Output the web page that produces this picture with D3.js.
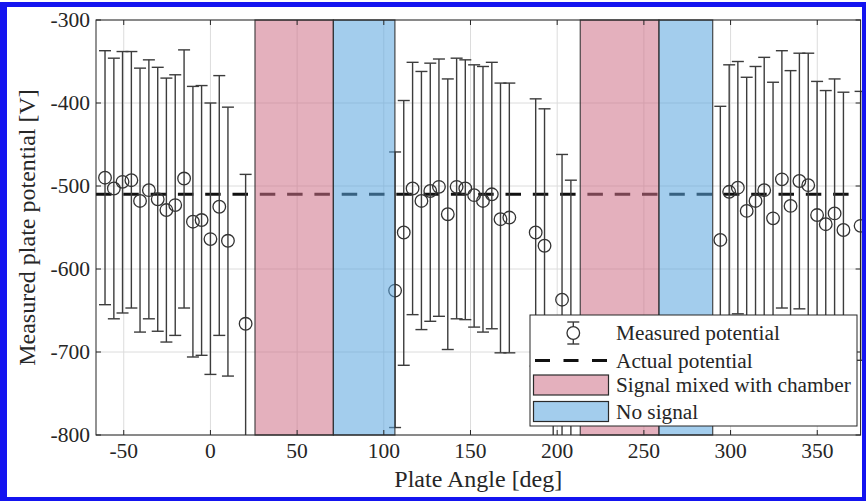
<!DOCTYPE html>
<html>
<head>
<meta charset="utf-8">
<script src="https://cdn.jsdelivr.net/npm/d3@7"></script>
<style>
  html, body { margin: 0; padding: 0; background: #fff; }
  svg { display: block; }
  svg text { font-family: "Liberation Serif", "DejaVu Serif", serif; }
</style>
</head>
<body>
<svg id="chart" width="866" height="502" font-family="Liberation Serif, DejaVu Serif, serif"></svg>
<script>
// Plate angle of each measurement [deg]
const angleDeg = [
  -60.8, -55.7, -50.7, -45.6, -40.6, -35.5, -30.4, -25.4, -20.3, -15.2, -10.1, -5.1, 0, 5.1, 10.1, 20.3,
  106.5, 111.5, 116.6, 121.7, 126.8, 131.8, 136.9, 142.0, 147.0, 152.1, 157.2, 162.3, 167.3, 172.4,
  187.6, 192.7, 197.7, 202.8, 207.9,
  294.1, 299.2, 304.2, 309.3, 314.4, 319.4, 324.5, 329.6, 334.6, 339.7, 344.8, 349.9, 354.9, 360.0, 365.1, 375.0
];
// Measured plate potential [V]
const measuredV = [
  -490, -503, -495, -493, -518, -505, -516, -529, -523, -491, -543, -541, -564, -525, -566, -666,
  -626, -556, -503, -518, -506, -501, -534, -501, -503, -511, -518, -510, -540, -538,
  -556, -572, -835, -637, -668,
  -565, -507, -502, -530, -518, -505, -539, -492, -524, -494, -499, -535, -546, -533, -553, -548
];
// Upper end of the error bar [V]
const upperV = [
  -337, -346, -338, -338, -358, -348, -357, -370, -366, -336, -380, -379, -400, -367, -405, -486,
  -459, -397, -351, -362, -352, -347, -371, -346, -348, -354, -356, -351, -376, -376,
  -395, -407, -670, -462, -493,
  -404, -354, -350, -369, -356, -345, -375, -337, -361, -340, -340, -374, -385, -371, -387, -386
];
// Lower end of the error bar [V]
const lowerV = [
  -643, -660, -653, -647, -676, -660, -675, -688, -680, -647, -706, -704, -727, -680, -729, -846,
  -791, -716, -655, -673, -663, -657, -697, -660, -661, -670, -676, -672, -701, -701,
  -717, -737, -1000, -812, -843,
  -726, -660, -654, -691, -680, -665, -703, -647, -687, -648, -658, -696, -707, -695, -719, -710
];

// Actual (set) plate potential [V]
const actualV = -510;

// Angle ranges [deg]
const mixedRanges = [[25.7, 70.9], [213.3, 258.7]];
const noSignalRanges = [[70.9, 106.4], [258.7, 289.7]];

// Axes
const xLimits = [-66, 375];
const yLimits = [-800, -300];
const xTicks = [-50, 0, 50, 100, 150, 200, 250, 300, 350];
const yTicks = [-800, -700, -600, -500, -400, -300];

const legendLabels = ["Measured potential", "Actual potential", "Signal mixed with chamber", "No signal"];

const W = 866, H = 502;
const plot = { left: 96, right: 860.6, top: 20, bottom: 435 };
const AX = "#262626";
const SERIF = "Liberation Serif, DejaVu Serif, serif";
const MIXED_FILL = "rgb(205,112,134)";
const NONE_FILL = "rgb(88,164,222)";
const FILL_OPACITY = 0.55;

const x = d3.scaleLinear().domain(xLimits).range([plot.left, plot.right]);
const y = d3.scaleLinear().domain(yLimits).range([plot.bottom, plot.top]);

const svg = d3.select("#chart");
svg.append("rect").attr("width", W).attr("height", H).attr("fill", "#fff");

const defs = svg.append("defs");
defs.append("clipPath").attr("id", "plotClip")
  .append("rect").attr("x", 0).attr("y", plot.top).attr("width", W).attr("height", plot.bottom - plot.top);

// Grid
const grid = svg.append("g").attr("stroke", "#dcdcdc").attr("stroke-width", 1);
grid.selectAll("line.gx").data(xTicks).join("line").attr("class", "gx")
  .attr("x1", d => x(d)).attr("x2", d => x(d)).attr("y1", plot.top).attr("y2", plot.bottom);
grid.selectAll("line.gy").data(yTicks).join("line").attr("class", "gy")
  .attr("x1", plot.left).attr("x2", plot.right).attr("y1", d => y(d)).attr("y2", d => y(d));

// Actual potential (dashed)
svg.append("line")
  .attr("x1", plot.left).attr("x2", plot.right)
  .attr("y1", y(actualV)).attr("y2", y(actualV))
  .attr("stroke", "#111").attr("stroke-width", 3)
  .attr("stroke-dasharray", "15.5 11.8");

// Error bars and markers
const pts = angleDeg.map((a, i) => ({ a, v: measuredV[i], hi: upperV[i], lo: lowerV[i] }));
const eb = svg.append("g").attr("clip-path", "url(#plotClip)");
const capHalf = 6;
const barColor = "#3c3c3c";
eb.selectAll("line.stem").data(pts).join("line").attr("class", "stem")
  .attr("x1", d => x(d.a)).attr("x2", d => x(d.a))
  .attr("y1", d => y(d.hi)).attr("y2", d => y(d.lo))
  .attr("stroke", barColor).attr("stroke-width", 1.4);
eb.selectAll("line.capHi").data(pts).join("line").attr("class", "capHi")
  .attr("x1", d => x(d.a) - capHalf).attr("x2", d => x(d.a) + capHalf)
  .attr("y1", d => y(d.hi)).attr("y2", d => y(d.hi))
  .attr("stroke", barColor).attr("stroke-width", 1.4);
eb.selectAll("line.capLo").data(pts).join("line").attr("class", "capLo")
  .attr("x1", d => x(d.a) - capHalf).attr("x2", d => x(d.a) + capHalf)
  .attr("y1", d => y(d.lo)).attr("y2", d => y(d.lo))
  .attr("stroke", barColor).attr("stroke-width", 1.4);
eb.selectAll("circle").data(pts).join("circle")
  .attr("cx", d => x(d.a)).attr("cy", d => y(d.v)).attr("r", 6.3)
  .attr("fill", "none").attr("stroke", "#333").attr("stroke-width", 1.3);

// Shaded angle ranges (translucent, over the data)
function drawRanges(ranges, fill) {
  const g = svg.append("g");
  g.selectAll("rect").data(ranges).join("rect")
    .attr("x", d => x(d[0])).attr("width", d => x(d[1]) - x(d[0]))
    .attr("y", plot.top).attr("height", plot.bottom - plot.top)
    .attr("fill", fill).attr("fill-opacity", FILL_OPACITY)
    .attr("stroke", "#2a2a2a").attr("stroke-width", 1.2).attr("stroke-opacity", 0.85);
}
drawRanges(mixedRanges, MIXED_FILL);
drawRanges(noSignalRanges, NONE_FILL);

// Axes box and inward ticks on all four sides
const axes = svg.append("g").attr("stroke", AX).attr("stroke-width", 1);
axes.append("rect").attr("x", plot.left).attr("y", plot.top)
  .attr("width", plot.right - plot.left).attr("height", plot.bottom - plot.top).attr("fill", "none");
const tl = 5;
xTicks.forEach(t => {
  axes.append("line").attr("x1", x(t)).attr("x2", x(t)).attr("y1", plot.bottom).attr("y2", plot.bottom - tl);
  axes.append("line").attr("x1", x(t)).attr("x2", x(t)).attr("y1", plot.top).attr("y2", plot.top + tl);
});
yTicks.forEach(t => {
  axes.append("line").attr("x1", plot.left).attr("x2", plot.left + tl).attr("y1", y(t)).attr("y2", y(t));
  axes.append("line").attr("x1", plot.right).attr("x2", plot.right - tl).attr("y1", y(t)).attr("y2", y(t));
});

// Tick labels
const tickFont = 21.5;
const legendFont = 21.3;
const titleFont = 24;
svg.append("g").selectAll("text").data(xTicks).join("text")
  .attr("x", d => x(d)).attr("y", 458).attr("text-anchor", "middle")
  .attr("font-family", SERIF).attr("font-size", tickFont).attr("fill", AX).text(d => d);
svg.append("g").selectAll("text").data(yTicks).join("text")
  .attr("x", plot.left - 6).attr("y", d => y(d)).attr("dy", "0.34em").attr("text-anchor", "end")
  .attr("font-family", SERIF).attr("font-size", tickFont).attr("fill", AX).text(d => d);

// Axis titles
svg.append("text").attr("x", (plot.left + plot.right) / 2).attr("y", 487)
  .attr("text-anchor", "middle").attr("font-family", SERIF).attr("font-size", titleFont).attr("fill", AX)
  .text("Plate Angle [deg]");
svg.append("text").attr("transform", `translate(35,${(plot.top + plot.bottom) / 2}) rotate(-90)`)
  .attr("text-anchor", "middle").attr("font-family", SERIF).attr("font-size", titleFont).attr("fill", AX)
  .text("Measured plate potential [V]");

// Legend
const lg = svg.append("g");
const box = { x: 530, y: 315, w: 327, h: 111 };
lg.append("rect").attr("x", box.x).attr("y", box.y).attr("width", box.w).attr("height", box.h)
  .attr("fill", "#fff").attr("stroke", AX).attr("stroke-width", 1);
const rowY = [333, 360.5, 385, 411.5];
const textX = 616;
// errorbar symbol
const sx = 573.3;
lg.append("line").attr("x1", sx).attr("x2", sx).attr("y1", rowY[0] - 11).attr("y2", rowY[0] + 11)
  .attr("stroke", barColor).attr("stroke-width", 1.4);
[-11, 11].forEach(o => lg.append("line").attr("x1", sx - 6).attr("x2", sx + 6)
  .attr("y1", rowY[0] + o).attr("y2", rowY[0] + o).attr("stroke", barColor).attr("stroke-width", 1.4));
lg.append("circle").attr("cx", sx).attr("cy", rowY[0]).attr("r", 6.3)
  .attr("fill", "#fff").attr("stroke", "#333").attr("stroke-width", 1.3);
// dashed line symbol
lg.append("line").attr("x1", 535).attr("x2", 607).attr("y1", rowY[1]).attr("y2", rowY[1])
  .attr("stroke", "#111").attr("stroke-width", 3).attr("stroke-dasharray", "15 13.5");
// patch symbols
[[MIXED_FILL, rowY[2]], [NONE_FILL, rowY[3]]].forEach(([c, cy]) => {
  lg.append("rect").attr("x", 533.5).attr("y", cy - 10).attr("width", 75).attr("height", 20)
    .attr("fill", c).attr("fill-opacity", FILL_OPACITY)
    .attr("stroke", "#2a2a2a").attr("stroke-width", 1.2);
});
lg.selectAll("text").data(legendLabels).join("text")
  .attr("x", textX).attr("y", (d, i) => rowY[i] + 7)
  .attr("font-family", SERIF).attr("font-size", legendFont).attr("fill", AX).text(d => d);

// Blue frame
const frame = svg.append("g").attr("fill", "#1414f0");
frame.append("rect").attr("x", 0).attr("y", 2).attr("width", 7).attr("height", 499);
frame.append("rect").attr("x", 0).attr("y", 2).attr("width", 866).attr("height", 5);
frame.append("rect").attr("x", 862).attr("y", 2).attr("width", 4).attr("height", 499);
frame.append("rect").attr("x", 0).attr("y", 497).attr("width", 866).attr("height", 4);
</script>
</body>
</html>
